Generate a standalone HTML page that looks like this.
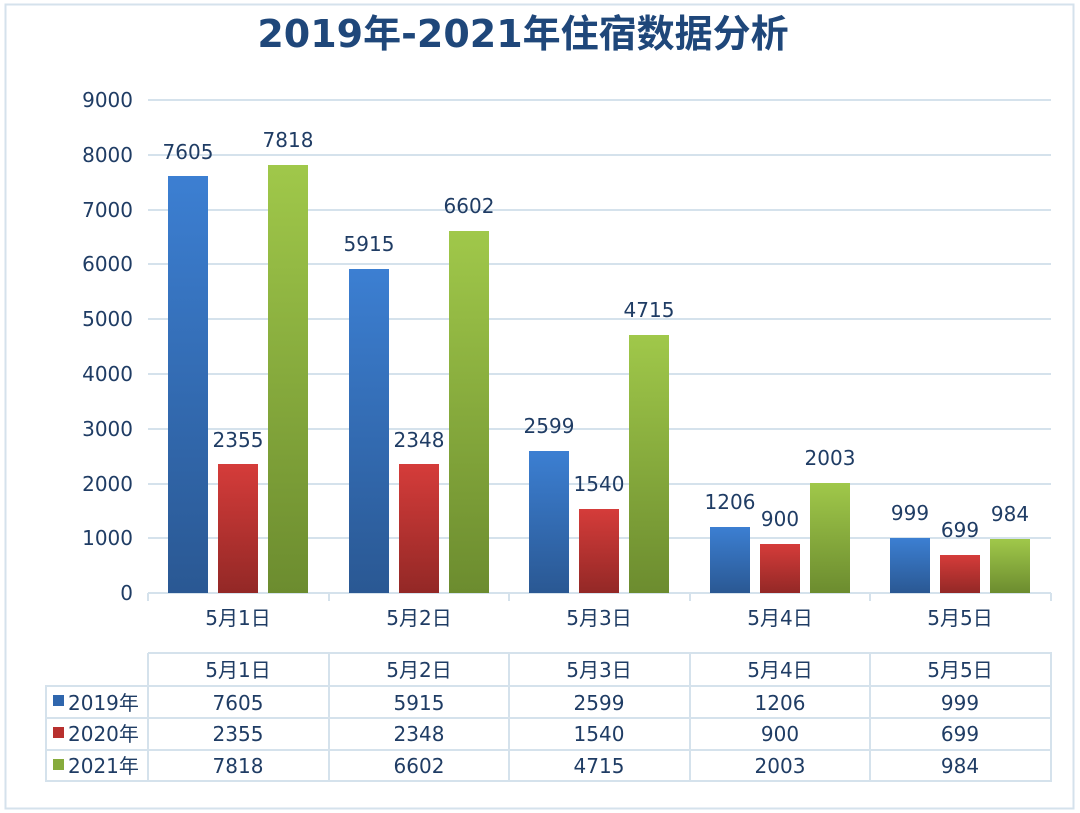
<!DOCTYPE html><html><head><meta charset="utf-8"><style>body{margin:0;background:#fff}svg{display:block}</style></head><body>
<svg width="1080" height="813" xmlns="http://www.w3.org/2000/svg" font-family="DejaVu Sans, Liberation Sans, Noto Sans CJK SC, sans-serif" fill="#1f3c64">
<defs>
<linearGradient id="gb" x1="0" y1="0" x2="0" y2="1"><stop offset="0" stop-color="#3c7fd2"/><stop offset="1" stop-color="#2a5893"/></linearGradient>
<linearGradient id="gr" x1="0" y1="0" x2="0" y2="1"><stop offset="0" stop-color="#d53c3a"/><stop offset="1" stop-color="#932826"/></linearGradient>
<linearGradient id="gg" x1="0" y1="0" x2="0" y2="1"><stop offset="0" stop-color="#a0c84a"/><stop offset="1" stop-color="#6c8c2f"/></linearGradient>
</defs>
<rect x="5.5" y="4.5" width="1068" height="804" fill="#fff" stroke="#d5e2ec" stroke-width="2"/>
<text x="523" y="47" text-anchor="middle" font-size="38" font-weight="bold" fill="#1f477a" font-family="DejaVu Sans, Noto Sans CJK SC, sans-serif">2019年-2021年住宿数据分析</text>
<g stroke="#d5e2ec" stroke-width="2">
<line x1="148" y1="100" x2="1051" y2="100"/><line x1="148" y1="155" x2="1051" y2="155"/><line x1="148" y1="210" x2="1051" y2="210"/><line x1="148" y1="264" x2="1051" y2="264"/><line x1="148" y1="319" x2="1051" y2="319"/><line x1="148" y1="374" x2="1051" y2="374"/><line x1="148" y1="429" x2="1051" y2="429"/><line x1="148" y1="484" x2="1051" y2="484"/><line x1="148" y1="538" x2="1051" y2="538"/><line x1="148" y1="593" x2="1051" y2="593"/>
<line x1="148" y1="593" x2="148" y2="601"/><line x1="329" y1="593" x2="329" y2="601"/><line x1="509" y1="593" x2="509" y2="601"/><line x1="690" y1="593" x2="690" y2="601"/><line x1="870" y1="593" x2="870" y2="601"/><line x1="1051" y1="593" x2="1051" y2="601"/>
</g>
<g font-size="20" text-anchor="end">
<text x="133" y="107">9000</text><text x="133" y="162">8000</text><text x="133" y="217">7000</text><text x="133" y="271">6000</text><text x="133" y="326">5000</text><text x="133" y="381">4000</text><text x="133" y="436">3000</text><text x="133" y="491">2000</text><text x="133" y="545">1000</text><text x="133" y="600">0</text>
</g>
<g font-size="20" text-anchor="middle" font-family="DejaVu Sans, Noto Sans CJK SC, sans-serif">
<rect x="168" y="176" width="40" height="417" fill="url(#gb)"/><rect x="218" y="464" width="40" height="129" fill="url(#gr)"/><rect x="268" y="165" width="40" height="428" fill="url(#gg)"/>
<rect x="349" y="269" width="40" height="324" fill="url(#gb)"/><rect x="399" y="464" width="40" height="129" fill="url(#gr)"/><rect x="449" y="231" width="40" height="362" fill="url(#gg)"/>
<rect x="529" y="451" width="40" height="142" fill="url(#gb)"/><rect x="579" y="509" width="40" height="84" fill="url(#gr)"/><rect x="629" y="335" width="40" height="258" fill="url(#gg)"/>
<rect x="710" y="527" width="40" height="66" fill="url(#gb)"/><rect x="760" y="544" width="40" height="49" fill="url(#gr)"/><rect x="810" y="483" width="40" height="110" fill="url(#gg)"/>
<rect x="890" y="538" width="40" height="55" fill="url(#gb)"/><rect x="940" y="555" width="40" height="38" fill="url(#gr)"/><rect x="990" y="539" width="40" height="54" fill="url(#gg)"/>
<text x="188" y="159">7605</text><text x="238" y="447">2355</text><text x="288" y="147">7818</text>
<text x="369" y="251">5915</text><text x="419" y="447">2348</text><text x="469" y="213">6602</text>
<text x="549" y="433">2599</text><text x="599" y="491">1540</text><text x="649" y="317">4715</text>
<text x="730" y="509">1206</text><text x="780" y="526">900</text><text x="830" y="465">2003</text>
<text x="910" y="520">999</text><text x="960" y="537">699</text><text x="1010" y="521">984</text>
<text x="238" y="625">5月1日</text><text x="419" y="625">5月2日</text><text x="599" y="625">5月3日</text><text x="780" y="625">5月4日</text><text x="960" y="625">5月5日</text>
</g>
<g stroke="#d5e2ec" stroke-width="2" fill="none">
<path d="M148 653H1051V781H46V686H1051M46 718H1051M46 750H1051M148 653V781M329 653V781M509 653V781M690 653V781M870 653V781M1051 653V781"/>
</g>
<g font-size="20" text-anchor="middle" font-family="DejaVu Sans, Noto Sans CJK SC, sans-serif">
<text x="238" y="677">5月1日</text><text x="419" y="677">5月2日</text><text x="599" y="677">5月3日</text><text x="780" y="677">5月4日</text><text x="960" y="677">5月5日</text>
<text x="238" y="710">7605</text><text x="419" y="710">5915</text><text x="599" y="710">2599</text><text x="780" y="710">1206</text><text x="960" y="710">999</text>
<text x="238" y="741">2355</text><text x="419" y="741">2348</text><text x="599" y="741">1540</text><text x="780" y="741">900</text><text x="960" y="741">699</text>
<text x="238" y="773">7818</text><text x="419" y="773">6602</text><text x="599" y="773">4715</text><text x="780" y="773">2003</text><text x="960" y="773">984</text>
</g>
<g font-size="20" font-family="DejaVu Sans, Noto Sans CJK SC, sans-serif">
<rect x="53" y="695" width="11" height="11" fill="#2f66ad"/><text x="68" y="710">2019年</text>
<rect x="53" y="727" width="11" height="11" fill="#b8302e"/><text x="68" y="741">2020年</text>
<rect x="53" y="759" width="11" height="11" fill="#86ab3c"/><text x="68" y="773">2021年</text>
</g>
</svg>
</body></html>
